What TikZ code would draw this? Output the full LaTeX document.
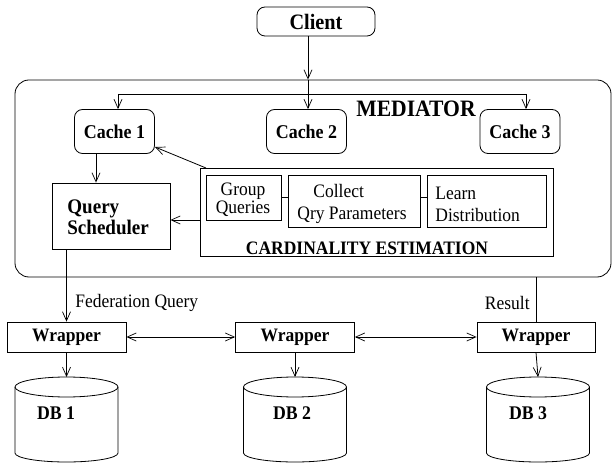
\documentclass[tikz,border=0pt]{standalone}
\usepackage{fontspec}
\setmainfont{Liberation Serif}[FakeStretch=0.92]
\usetikzlibrary{arrows.meta,calc}
\begin{document}
\begin{tikzpicture}[x=1pt,y=-1pt,
  line width=0.8pt,
  arr/.style={-{Straight Barb[length=9pt,width=8pt,line width=0.7pt]}},
  arrtwo/.style={{Straight Barb[length=9pt,width=8pt,line width=0.7pt]}-{Straight Barb[length=9pt,width=8pt,line width=0.7pt]}},
  rbox/.style={draw,rounded corners=8pt,inner sep=0pt,font=\bfseries\fontsize{19.5}{21}\selectfont},
  sbox/.style={draw,inner sep=0pt},
  bold/.style={font=\bfseries\fontsize{19}{21}\selectfont,inner sep=0pt},
  reg/.style={font=\fontsize{19}{22}\selectfont,inner sep=0pt}]
\useasboundingbox (0,0) rectangle (613,470);

% client and mediator
\node[rbox,minimum width=118,minimum height=29,font=\bfseries\fontsize{22}{24}\selectfont] (client) at (316,21.5) {Client};
\node[draw,rounded corners=14pt,minimum width=596,minimum height=197,inner sep=0pt] (med) at (313,178.5) {};
\node[bold,font=\bfseries\fontsize{23.5}{25}\selectfont] (medlabel) at (416,109) {MEDIATOR};

% caches
\node[rbox,minimum width=80,minimum height=44] (c1) at (114.5,131.5) {Cache 1};
\node[rbox,minimum width=80,minimum height=44] (c2) at (306.5,131.5) {Cache 2};
\node[rbox,minimum width=80,minimum height=44] (c3) at (520,131.5) {Cache 3};

\coordinate (h1) at (118,94);
\coordinate (h2) at (308,94);
\coordinate (h3) at (526,94);
\draw[arr] (client.south -| h2) -- (h2 |- med.north);
\draw (h2 |- med.north) -- (h2);
\draw (h1) -- (h3);
\draw[arr] (h1) -- (h1 |- c1.north);
\draw[arr] (h2) -- (h2 |- c2.north);
\draw[arr] (h3) -- (h3 |- c3.north);

% query scheduler
\node[sbox,minimum width=118,minimum height=66] (qs) at (111,216) {};
\node[bold,font=\bfseries\fontsize{20.7}{21}\selectfont,align=left,anchor=west] (qstext) at (67,217.5) {Query\\Scheduler};
\draw[arr] (c1.south -| 96,0) -- (qs.north -| 96,0);

% cardinality estimation
\node[sbox,minimum width=353,minimum height=88] (ce) at (376.5,212) {};
\node[sbox,minimum width=75,minimum height=45] (gq) at (243.5,197.5) {};
\node[sbox,minimum width=132,minimum height=52] (cq) at (354,201) {};
\node[sbox,minimum width=118.5,minimum height=52] (ld) at (486.75,201) {};
\node[reg,align=center,font=\fontsize{19}{14}\selectfont] (gqtext) at (243,200) {Group\\Queries};
\node[reg,align=left,anchor=west] (cqtext) at (297,204) {\hspace*{16pt}Collect\\Qry Parameters};
\node[reg,align=left,anchor=west] (ldtext) at (435,204) {Learn\\Distribution};
\draw (gq.east |- 0,197) -- (cq.west |- 0,197);
\draw (cq.east |- 0,197) -- (ld.west |- 0,197);
\node[bold,anchor=base] (cetext) at (367,255) {CARDINALITY ESTIMATION};

\coordinate (cel) at (200,220);
\draw[arr] (cel) -- (cel -| qs.east);
\coordinate (cetl) at (206,168);
\coordinate (c1tip) at (155,147);
\draw[arr] (cetl) -- (c1tip);

% wrappers
\node[sbox,minimum width=119,minimum height=30,font=\bfseries\fontsize{19}{21}\selectfont] (w1) at (66.5,337) {Wrapper};
\node[sbox,minimum width=119,minimum height=30,font=\bfseries\fontsize{19}{21}\selectfont] (w2) at (295,337) {Wrapper};
\node[sbox,minimum width=118,minimum height=30,font=\bfseries\fontsize{19}{21}\selectfont] (w3) at (536,337) {Wrapper};
\draw[arrtwo] (w1.east) -- (w2.west);
\draw[arrtwo] (w2.east) -- (w3.west);

\draw[arr] (w1.north |- qs.south) -- (w1.north);
\node[reg,anchor=west] (fqtext) at (75,303) {Federation Query};
\draw (w3.north |- med.south) -- (w3.north);
\node[reg,anchor=east] (restext) at (530,303) {Result};

% databases
\newcommand{\dbcyl}[1]{%
  \draw (#1-51.5,387) -- (#1-51.5,453) arc[start angle=180,end angle=0,x radius=51.5,y radius=9] -- (#1+51.5,387);
  \draw (#1,387) ellipse [x radius=51.5,y radius=10];}
\dbcyl{66.5}
\dbcyl{295}
\dbcyl{538}
\coordinate (db1top) at (66.5,377);
\coordinate (db2top) at (295,377);
\coordinate (db3top) at (538,377);
\draw[arr] (w1.south) -- (db1top);
\draw[arr] (w2.south) -- (db2top);
\draw[arr] (w3.south) -- (db3top);
\node[bold,font=\bfseries\fontsize{19.3}{21}\selectfont] (db1) at (56,413) {DB 1};
\node[bold,font=\bfseries\fontsize{19.3}{21}\selectfont] (db2) at (292,413) {DB 2};
\node[bold,font=\bfseries\fontsize{19.3}{21}\selectfont] (db3) at (528,413) {DB 3};
\end{tikzpicture}
\end{document}
